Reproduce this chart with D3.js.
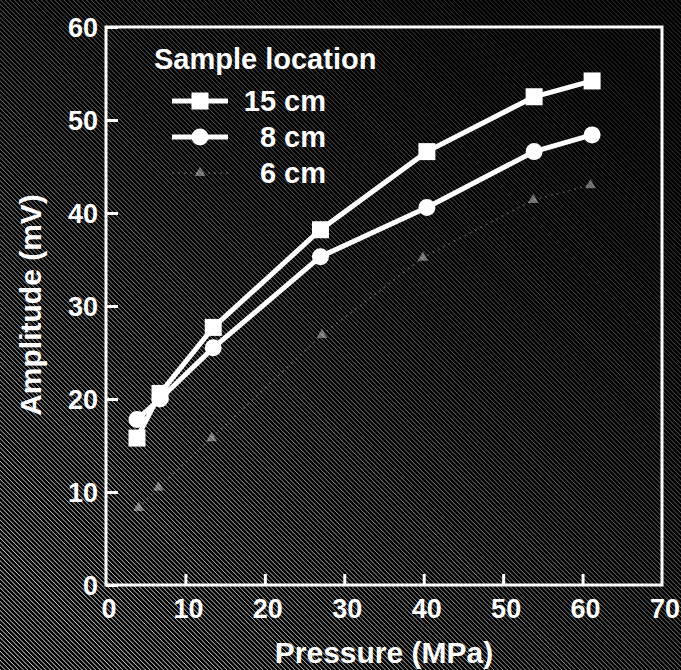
<!DOCTYPE html>
<html>
<head>
<meta charset="utf-8">
<script src="https://cdn.jsdelivr.net/npm/d3@7"></script>
<style>
  body { margin: 0; background: #000; }
  svg { display: block; }
</style>
</head>
<body>
<svg width="681" height="670"></svg>
<script>
// values
var pressure15 = [3.9, 6.8, 13.5, 27.0, 40.4, 53.9, 61.2];
var amp15 = [15.8, 20.6, 27.7, 38.2, 46.6, 52.5, 54.2];
var pressure8 = [3.9, 6.8, 13.5, 27.0, 40.4, 53.9, 61.2];
var amp8 = [17.8, 20.0, 25.5, 35.3, 40.6, 46.6, 48.4];
var pressure6 = [4.1, 6.6, 13.3, 27.2, 39.9, 53.8, 61.0];
var amp6 = [8.3, 10.5, 15.8, 26.9, 35.2, 41.4, 43.0];
var xTicks = [0, 10, 20, 30, 40, 50, 60, 70];
var yTicks = [0, 10, 20, 30, 40, 50, 60];
var legendNames = ['15 cm', '8 cm', '6 cm'];

var svg = d3.select('svg');
var font = '"Liberation Sans", Arial, sans-serif';

// halftone-ish background
var defs = svg.append('defs');
var hatch = defs.append('pattern')
  .attr('id', 'hatch')
  .attr('width', 3.2).attr('height', 3.2)
  .attr('patternUnits', 'userSpaceOnUse')
  .attr('patternTransform', 'rotate(-45)');
hatch.append('line')
  .attr('x1', 0).attr('y1', 0).attr('x2', 0).attr('y2', 3.2)
  .attr('stroke', '#fff').attr('stroke-width', 1.4);
var grad = defs.append('linearGradient')
  .attr('id', 'fade')
  .attr('x1', 0.85).attr('y1', 0.1).attr('x2', 0.15).attr('y2', 0.95);
grad.append('stop').attr('offset', 0).attr('stop-color', '#fff').attr('stop-opacity', 0.2);
grad.append('stop').attr('offset', 0.4).attr('stop-color', '#fff').attr('stop-opacity', 0.4);
grad.append('stop').attr('offset', 1).attr('stop-color', '#fff').attr('stop-opacity', 0.9);
var mask = defs.append('mask').attr('id', 'bgmask');
mask.append('rect').attr('width', 681).attr('height', 670).attr('fill', 'url(#fade)');

svg.append('rect').attr('width', 681).attr('height', 670).attr('fill', '#000');
svg.append('rect').attr('width', 681).attr('height', 670)
  .attr('fill', 'url(#hatch)').attr('mask', 'url(#bgmask)');

var x = d3.scaleLinear().domain([0, 70]).range([106, 662]);
var y = d3.scaleLinear().domain([0, 60]).range([585, 27]);

// frame
svg.append('rect')
  .attr('x', x(0)).attr('y', y(60))
  .attr('width', x(70) - x(0)).attr('height', y(0) - y(60))
  .attr('fill', 'none').attr('stroke', '#fff').attr('stroke-width', 3);

// axes, ticks point inward
var yAxis = svg.append('g')
  .attr('transform', 'translate(' + x(0) + ',0)')
  .call(d3.axisRight(y).tickValues(yTicks).tickSize(12).tickFormat(''));
var xAxis = svg.append('g')
  .attr('transform', 'translate(0,' + y(0) + ')')
  .call(d3.axisTop(x).tickValues(xTicks.slice(1, 7)).tickSize(11).tickFormat(''));
[xAxis, yAxis].forEach(function(a) {
  a.select('.domain').remove();
  a.selectAll('line').attr('stroke', '#fff').attr('stroke-width', 3);
});

// tick labels
svg.append('g').selectAll('text')
  .data(yTicks).enter().append('text')
  .attr('x', 98).attr('y', function(d) { return y(d); })
  .attr('dy', '0.36em')
  .attr('text-anchor', 'end')
  .attr('font-family', font).attr('font-weight', 'bold').attr('font-size', 27)
  .attr('fill', '#fff')
  .text(function(d) { return d; });
svg.append('g').selectAll('text')
  .data(xTicks).enter().append('text')
  .attr('x', function(d) { return x(d) + 3; }).attr('y', 618)
  .attr('text-anchor', 'middle')
  .attr('font-family', font).attr('font-weight', 'bold').attr('font-size', 27)
  .attr('fill', '#fff')
  .text(function(d) { return d; });

// axis titles
svg.append('text')
  .attr('x', 384).attr('y', 663)
  .attr('text-anchor', 'middle')
  .attr('font-family', font).attr('font-weight', 'bold').attr('font-size', 30)
  .attr('fill', '#fff')
  .text('Pressure (MPa)');
svg.append('text')
  .attr('transform', 'translate(41,305) rotate(-90)')
  .attr('text-anchor', 'middle')
  .attr('font-family', font).attr('font-weight', 'bold').attr('font-size', 30)
  .attr('fill', '#fff')
  .text('Amplitude (mV)');

var line = d3.line().x(function(d) { return x(d[0]); }).y(function(d) { return y(d[1]); });

// 6 cm: barely visible in the print
var pts6 = d3.zip(pressure6, amp6);
svg.append('path').datum(pts6)
  .attr('d', line).attr('fill', 'none')
  .attr('stroke', '#fff').attr('stroke-opacity', 0.25)
  .attr('stroke-width', 1.5).attr('stroke-dasharray', '2,4');
svg.append('g').selectAll('path')
  .data(pts6).enter().append('path')
  .attr('transform', function(d) { return 'translate(' + x(d[0]) + ',' + y(d[1]) + ')'; })
  .attr('d', d3.symbol(d3.symbolTriangle, 50))
  .attr('fill', '#fff').attr('fill-opacity', 0.4);

// 8 cm
var pts8 = d3.zip(pressure8, amp8);
svg.append('path').datum(pts8)
  .attr('d', line).attr('fill', 'none')
  .attr('stroke', '#fff').attr('stroke-width', 5);
svg.append('g').selectAll('circle')
  .data(pts8).enter().append('circle')
  .attr('cx', function(d) { return x(d[0]); })
  .attr('cy', function(d) { return y(d[1]); })
  .attr('r', 8.5).attr('fill', '#fff');

// 15 cm
var pts15 = d3.zip(pressure15, amp15);
svg.append('path').datum(pts15)
  .attr('d', line).attr('fill', 'none')
  .attr('stroke', '#fff').attr('stroke-width', 5);
svg.append('g').selectAll('rect')
  .data(pts15).enter().append('rect')
  .attr('x', function(d) { return x(d[0]) - 8.5; })
  .attr('y', function(d) { return y(d[1]) - 8.5; })
  .attr('width', 17).attr('height', 17).attr('fill', '#fff');

// legend
var legend = svg.append('g');
legend.append('text')
  .attr('x', 154).attr('y', 69)
  .attr('font-family', font).attr('font-weight', 'bold').attr('font-size', 29)
  .attr('fill', '#fff')
  .text('Sample location');
var rows = legend.selectAll('g.row')
  .data(legendNames).enter().append('g')
  .attr('class', 'row')
  .attr('transform', function(d, i) { return 'translate(0,' + (101 + i * 36) + ')'; });
rows.append('text')
  .attr('x', 326).attr('dy', '0.36em')
  .attr('text-anchor', 'end')
  .attr('font-family', font).attr('font-weight', 'bold').attr('font-size', 29)
  .attr('fill', '#fff')
  .text(function(d) { return d; });
rows.append('line')
  .attr('x1', 172).attr('x2', 228)
  .attr('stroke', '#fff')
  .attr('stroke-width', function(d, i) { return i < 2 ? 5 : 1.5; })
  .attr('stroke-opacity', function(d, i) { return i < 2 ? 1 : 0.25; })
  .attr('stroke-dasharray', function(d, i) { return i < 2 ? null : '2,4'; });
rows.filter(function(d, i) { return i === 0; }).append('rect')
  .attr('x', 191.5).attr('y', -8.5).attr('width', 17).attr('height', 17).attr('fill', '#fff');
rows.filter(function(d, i) { return i === 1; }).append('circle')
  .attr('cx', 200).attr('r', 8.5).attr('fill', '#fff');
rows.filter(function(d, i) { return i === 2; }).append('path')
  .attr('transform', 'translate(200,0)')
  .attr('d', d3.symbol(d3.symbolTriangle, 50))
  .attr('fill', '#fff').attr('fill-opacity', 0.4);
</script>
</body>
</html>
